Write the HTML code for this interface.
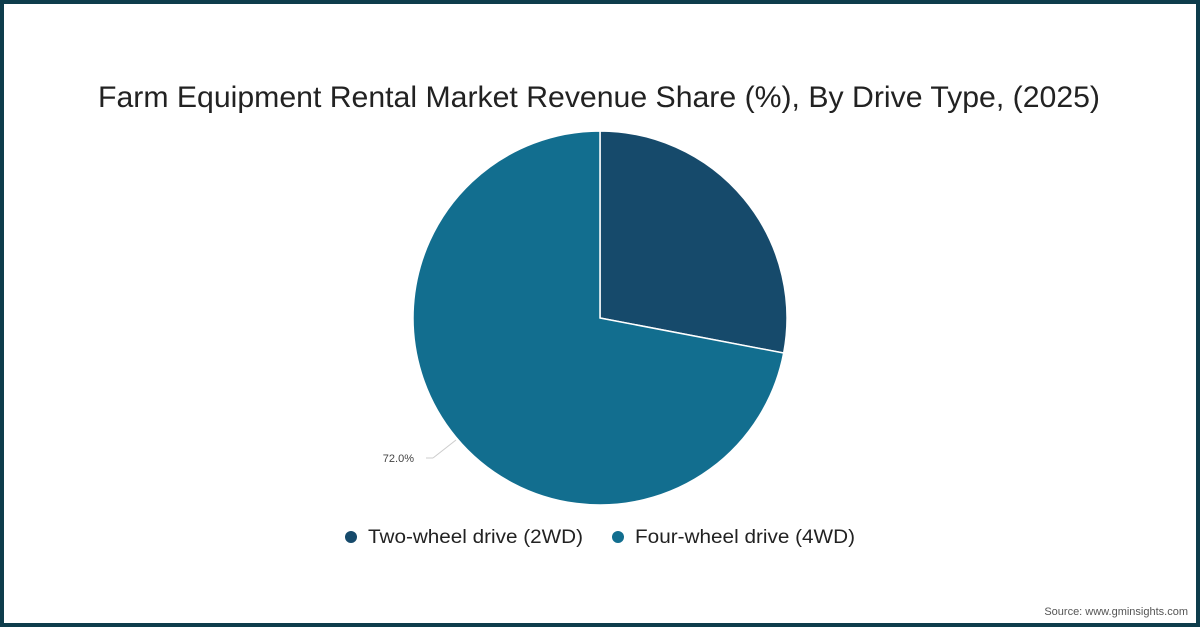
<!DOCTYPE html>
<html><head><meta charset="utf-8"><style>
body{margin:0;width:1200px;height:627px;overflow:hidden;background:#fff;font-family:"Liberation Sans",sans-serif}
#frame{position:absolute;left:0;top:0;width:1192px;height:619px;border:4px solid #0e3d4c;background:#fff}
</style></head><body>
<div id="frame"></div>
<svg width="1200" height="627" style="position:absolute;left:0;top:0">
<text x="98" y="107" textLength="1002" lengthAdjust="spacingAndGlyphs" font-size="30" fill="#222">Farm Equipment Rental Market Revenue Share (%), By Drive Type, (2025)</text>
<g id="pie"></g>
<line x1="426" y1="458" x2="433" y2="458" stroke="#ccc"/>
<line x1="433" y1="458" x2="456" y2="440" stroke="#ccc"/>
<text x="414" y="462" text-anchor="end" font-size="11" fill="#444">72.0%</text>
<g>
<circle cx="351" cy="537" r="6" fill="#164a6b"/>
<text x="368" y="543" textLength="215" lengthAdjust="spacingAndGlyphs" font-size="19" fill="#222">Two-wheel drive (2WD)</text>
<circle cx="618" cy="537" r="6" fill="#126e8f"/>
<text x="635" y="543" textLength="220" lengthAdjust="spacingAndGlyphs" font-size="19" fill="#222">Four-wheel drive (4WD)</text>
</g>
<text x="1188" y="615" text-anchor="end" font-size="11" fill="#555">Source: www.gminsights.com</text>
</svg>
<script>
const categories=["Two-wheel drive (2WD)","Four-wheel drive (4WD)"];
const values=[28,72];
const colors=["#164a6b","#126e8f"];
const cx=600,cy=318,r=187;
const g=document.getElementById('pie');
const total=values.reduce((a,b)=>a+b,0);
let a0=0;
values.forEach((v,i)=>{
  const a1=a0+v/total*2*Math.PI;
  const x0=cx+r*Math.sin(a0),y0=cy-r*Math.cos(a0),x1=cx+r*Math.sin(a1),y1=cy-r*Math.cos(a1);
  const large=(a1-a0)>Math.PI?1:0;
  const p=document.createElementNS('http://www.w3.org/2000/svg','path');
  p.setAttribute('d',`M${cx},${cy}L${x0},${y0}A${r},${r} 0 ${large} 1 ${x1},${y1}Z`);
  p.setAttribute('fill',colors[i]);
  p.setAttribute('stroke','#fff');
  p.setAttribute('stroke-width','1.5');
  
  
  g.appendChild(p);
  a0=a1;
});
</script>
</body></html>
